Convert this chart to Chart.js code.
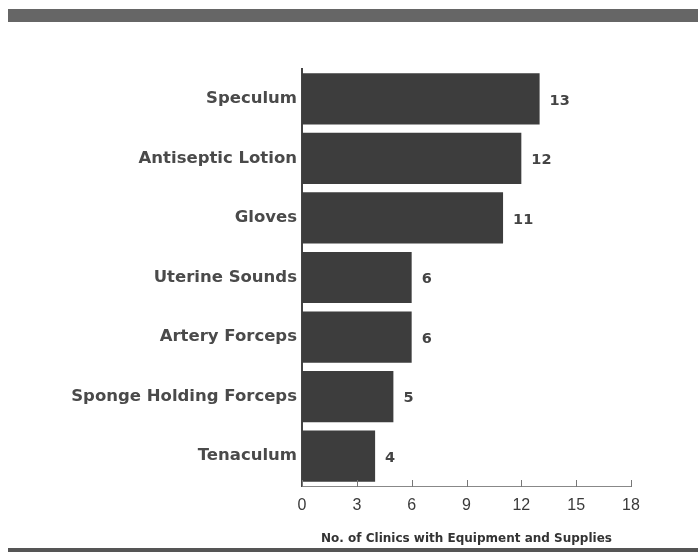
<!DOCTYPE html>
<html>
<head>
<meta charset="utf-8">
<script src="https://cdn.jsdelivr.net/npm/chart.js@4"></script>
<style>
  html, body { margin: 0; padding: 0; background: #fff; }
  #wrap { position: relative; width: 698px; height: 552px; overflow: hidden; }
  #topBand { position: absolute; left: 8px; top: 9px; width: 690px; height: 13px; background: #666; }
  #bottomLine { position: absolute; left: 8px; top: 548px; width: 690px; height: 4px; background: #555; }
  canvas { position: absolute; left: 0; top: 0; }
</style>
</head>
<body>
<div id="wrap">
  <div id="topBand"></div>
  <canvas id="myChart" width="698" height="552"></canvas>
  <div id="bottomLine"></div>
</div>
<script>
const categories = [
  "Speculum",
  "Antiseptic Lotion",
  "Gloves",
  "Uterine Sounds",
  "Artery Forceps",
  "Sponge Holding Forceps",
  "Tenaculum",
];
const clinics = [13, 12, 11, 6, 6, 5, 4];
const xTicks = [0, 3, 6, 9, 12, 15, 18];
const xTitle = "No. of Clinics with Equipment and Supplies";

const wideFont = "'DejaVu Sans', Verdana, sans-serif";

// value labels at the end of each bar, inward tick marks on the x axis
const extras = {
  id: "extras",
  afterDatasetsDraw(chart) {
    const ctx = chart.ctx;
    const meta = chart.getDatasetMeta(0);
    ctx.save();
    ctx.fillStyle = "#444";
    ctx.font = "bold 14.5px " + wideFont;
    ctx.textAlign = "left";
    ctx.textBaseline = "middle";
    meta.data.forEach((bar, i) => {
      ctx.fillText(String(clinics[i]), bar.x + 10, bar.y + 2);
    });
    const xs = chart.scales.x;
    const yb = chart.chartArea.bottom;
    ctx.strokeStyle = "#777";
    ctx.lineWidth = 1;
    xTicks.forEach(v => {
      const px = Math.round(xs.getPixelForValue(v)) + 0.5;
      ctx.beginPath();
      ctx.moveTo(px, yb + 1);
      ctx.lineTo(px, yb - 6);
      ctx.stroke();
    });
    ctx.restore();
  },
};

const data = {
  labels: categories,
  datasets: [
    {
      data: clinics,
      backgroundColor: "#3d3d3d",
      borderWidth: 0,
      barPercentage: 0.86,
      categoryPercentage: 1,
    },
  ],
};

const config = {
  type: "bar",
  data: data,
  options: {
    indexAxis: "y",
    responsive: false,
    animation: false,
    layout: { padding: { top: 69, right: 67, bottom: 0, left: 0 } },
    plugins: {
      legend: { display: false },
      tooltip: { enabled: false },
    },
    scales: {
      x: {
        type: "linear",
        min: 0,
        max: 18,
        afterBuildTicks(scale) {
          scale.ticks = xTicks.map(v => ({ value: v }));
        },
        afterFit(scale) {
          scale.height = 66;
        },
        grid: { display: false, drawTicks: false },
        border: { display: true, color: "#888", width: 1 },
        ticks: {
          padding: 10,
          color: "#3a3a3a",
          font: { family: "'Liberation Sans', Arial, sans-serif", size: 16 },
        },
        title: {
          display: true,
          text: xTitle,
          color: "#333",
          font: { family: wideFont, size: 12, weight: "bold" },
          padding: { top: 10, bottom: 6 },
        },
      },
      y: {
        afterFit(scale) {
          scale.width = 302;
        },
        grid: { display: false, drawTicks: false },
        border: { display: true, color: "#444", width: 2 },
        ticks: {
          padding: 5,
          color: "#4a4a4a",
          font: { family: wideFont, size: 16.5, weight: "bold" },
        },
      },
    },
  },
  plugins: [extras],
};

new Chart(document.getElementById("myChart"), config);
</script>
</body>
</html>
